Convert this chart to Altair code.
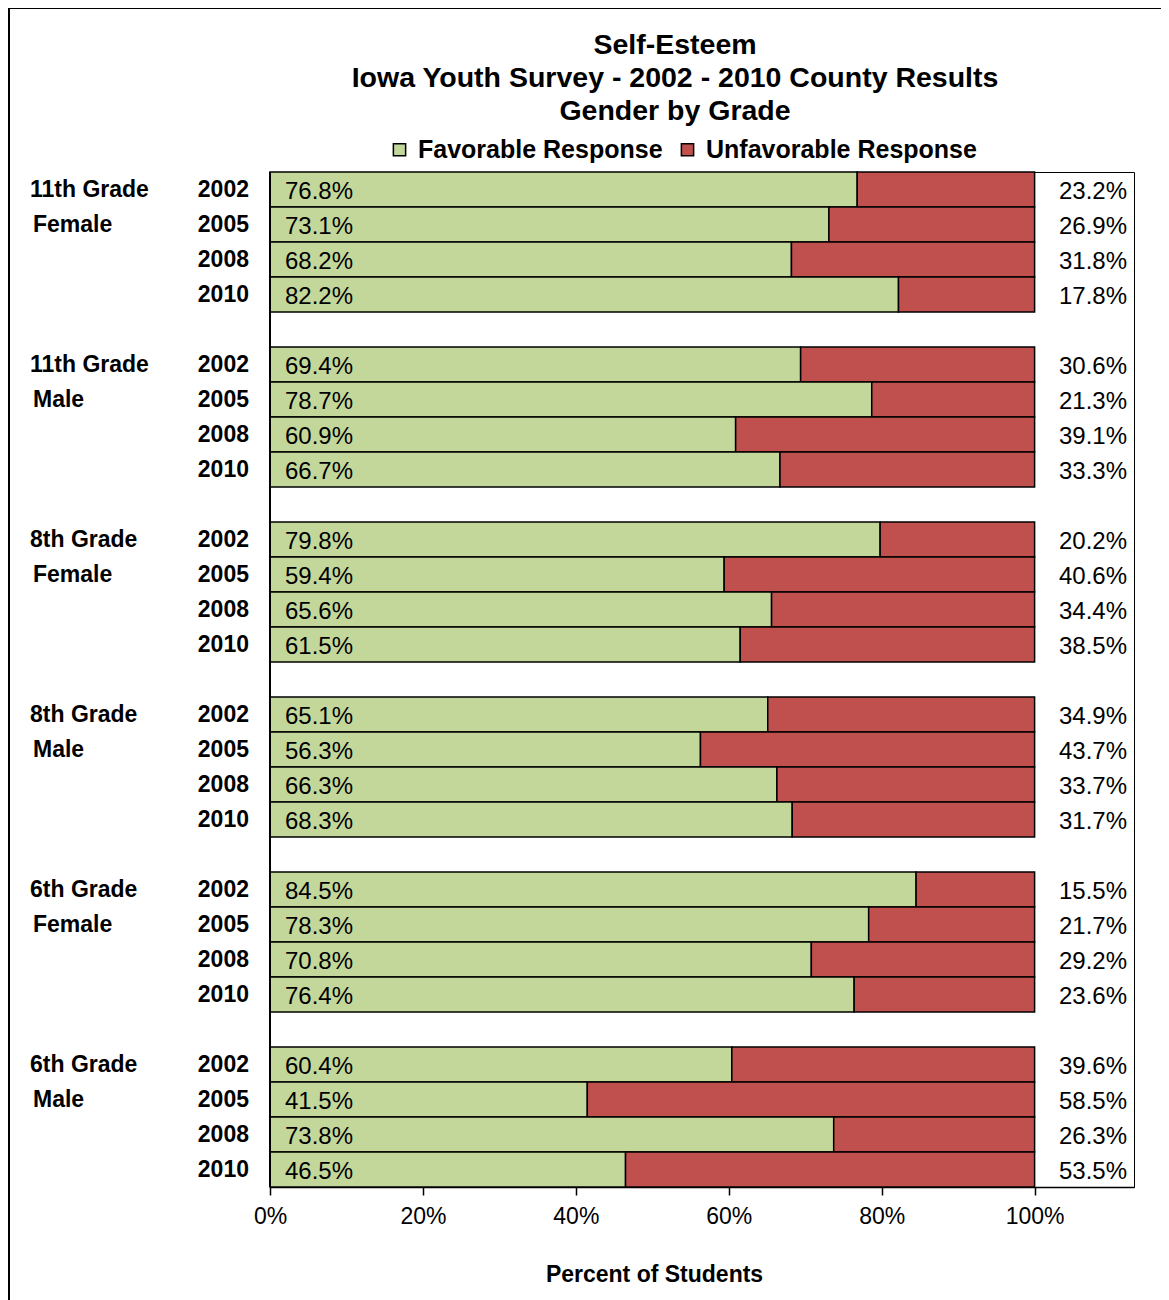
import altair as alt
import pandas as pd

title_lines = ["Self-Esteem", "Iowa Youth Survey - 2002 - 2010 County Results", "Gender by Grade"]
groups = ["11th Grade|Female", "11th Grade|Male", "8th Grade|Female",
          "8th Grade|Male", "6th Grade|Female", "6th Grade|Male"]
years = ["2002", "2005", "2008", "2010"]
favorable = [
    [76.8, 73.1, 68.2, 82.2],
    [69.4, 78.7, 60.9, 66.7],
    [79.8, 59.4, 65.6, 61.5],
    [65.1, 56.3, 66.3, 68.3],
    [84.5, 78.3, 70.8, 76.4],
    [60.4, 41.5, 73.8, 46.5],
]
unfavorable = [
    [23.2, 26.9, 31.8, 17.8],
    [30.6, 21.3, 39.1, 33.3],
    [20.2, 40.6, 34.4, 38.5],
    [34.9, 43.7, 33.7, 31.7],
    [15.5, 21.7, 29.2, 23.6],
    [39.6, 58.5, 26.3, 53.5],
]
series = ["Favorable Response", "Unfavorable Response"]
colors = ["#C4D79B", "#C0504D"]
tick_values = [0, 0.2, 0.4, 0.6, 0.8, 1.0]

FONT = "Liberation Sans"

row_order = []
bar_rows, year_rows, group_rows = [], [], []
for gi, g in enumerate(groups):
    grade, gender = g.split("|")
    for yi, y in enumerate(years):
        key = f"{gi}-{y}"
        row_order.append(key)
        bar_rows.append({"row": key, "response": series[0], "ord": 0, "value": favorable[gi][yi]})
        bar_rows.append({"row": key, "response": series[1], "ord": 1, "value": unfavorable[gi][yi]})
        year_rows.append({"row": key, "year": y})
    group_rows.append({"row": f"{gi}-{years[0]}", "label": grade, "kind": "grade"})
    group_rows.append({"row": f"{gi}-{years[1]}", "label": gender, "kind": "gender"})
    if gi < len(groups) - 1:
        row_order.append(f"gap{gi}")

bars_df = pd.DataFrame(bar_rows)
years_df = pd.DataFrame(year_rows)
groups_df = pd.DataFrame(group_rows)

W, H = 864, 1015
yenc = alt.Y("row:N", scale=alt.Scale(domain=row_order, paddingInner=0, paddingOuter=0), axis=None)

bars = alt.Chart(bars_df).mark_bar(stroke="black", strokeWidth=1.5).encode(
    x=alt.X("value:Q", stack="normalize",
            scale=alt.Scale(domain=[0, 1.13], nice=False, zero=True),
            axis=alt.Axis(values=tick_values, format=".0%", title="Percent of Students",
                          grid=False, tickSize=8, tickColor="black", domainColor="black",
                          domainWidth=1.5, tickWidth=1.5, labelFlush=False,
                          labelFont=FONT, labelFontSize=23, labelColor="black", labelPadding=10,
                          titleFont=FONT, titleFontSize=23, titleFontWeight="bold",
                          titleColor="black", titlePadding=35, titleX=384, titleAlign="center")),
    y=yenc,
    color=alt.Color("response:N", scale=alt.Scale(domain=series, range=colors),
                    legend=alt.Legend(orient="none", legendX=117, legendY=-35,
                                      direction="horizontal", columns=2, title=None,
                                      labelFont=FONT, labelFontSize=25, labelFontWeight="bold",
                                      labelColor="black", labelLimit=500,
                                      symbolType="square", symbolSize=150,
                                      symbolStrokeColor="black", symbolStrokeWidth=1.5,
                                      labelOffset=6, columnPadding=12)),
    order=alt.Order("ord:Q"),
)

fav_df = bars_df[bars_df["response"] == series[0]]
unf_df = bars_df[bars_df["response"] == series[1]]

fav_text = alt.Chart(fav_df).transform_calculate(
    label="format(datum.value, '.1f') + '%'"
).mark_text(align="left", baseline="middle", font=FONT, fontSize=24, color="black", dx=15, dy=2).encode(
    x=alt.value(0), y=yenc, text="label:N")

unf_text = alt.Chart(unf_df).transform_calculate(
    label="format(datum.value, '.1f') + '%'"
).mark_text(align="right", baseline="middle", font=FONT, fontSize=24, color="black", dy=2).encode(
    x=alt.value(W - 7), y=yenc, text="label:N")

year_text = alt.Chart(years_df).mark_text(
    align="right", baseline="middle", font=FONT, fontSize=23, fontWeight="bold", color="black"
).encode(x=alt.value(-21), y=yenc, text="year:N")

grade_text = alt.Chart(groups_df[groups_df["kind"] == "grade"]).mark_text(
    align="left", baseline="middle", font=FONT, fontSize=23, fontWeight="bold", color="black"
).encode(x=alt.value(-240), y=yenc, text="label:N")

gender_text = alt.Chart(groups_df[groups_df["kind"] == "gender"]).mark_text(
    align="left", baseline="middle", font=FONT, fontSize=23, fontWeight="bold", color="black"
).encode(x=alt.value(-237), y=yenc, text="label:N")

frame_df = pd.DataFrame({"k": [0]})
title_text = alt.Chart(frame_df).mark_text(
    align="center", baseline="top", font=FONT, fontSize=28.5, fontWeight="bold",
    color="black", lineHeight=33
).encode(x=alt.value(405), y=alt.value(-141), text=alt.value(title_lines))

left_border = alt.Chart(frame_df).mark_rule(color="black", strokeWidth=2).encode(
    x=alt.value(-261), y=alt.value(-164), y2=alt.value(H + 120))
top_border = alt.Chart(frame_df).mark_rule(color="black", strokeWidth=2).encode(
    x=alt.value(-261), x2=alt.value(W + 40), y=alt.value(-164))
left_axis = alt.Chart(frame_df).mark_rule(color="black", strokeWidth=2).encode(
    x=alt.value(0), y=alt.value(0), y2=alt.value(H))

chart = alt.layer(
    bars, fav_text, unf_text, year_text, grade_text, gender_text, title_text,
    left_border, top_border, left_axis
).properties(
    width=W, height=H,
    padding={"left": 262, "top": 164, "right": 27, "bottom": 113},
    autosize=alt.AutoSizeParams(type="none"),
).configure_view(stroke="black", strokeWidth=1)

chart.save("out.html", embed_options={"renderer": "svg", "actions": False})
